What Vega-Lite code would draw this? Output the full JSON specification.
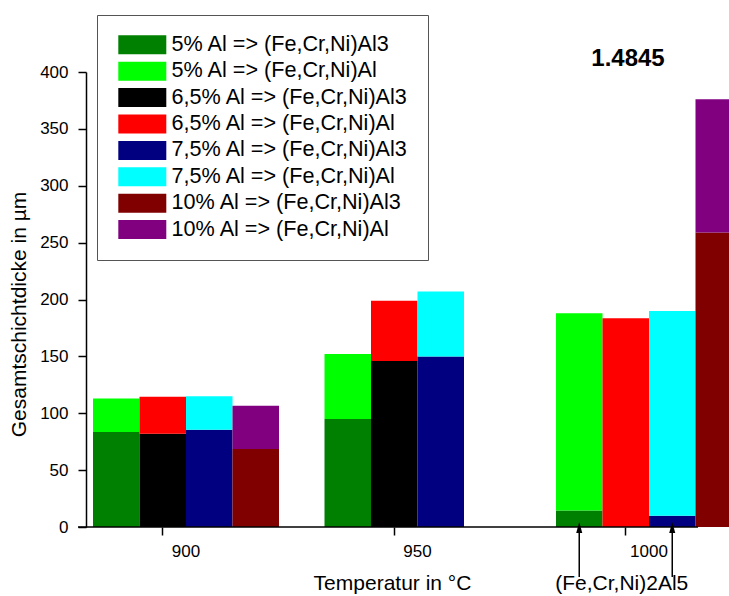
{
  "$schema": "https://vega.github.io/schema/vega-lite/v6.json",
  "width": 620,
  "height": 455,
  "autosize": {"type": "none"},
  "padding": {"left": 78, "top": 72, "right": 31, "bottom": 69},
  "background": "white",
  "title": {"text": "1.4845", "fontSize": 24, "fontWeight": "bold", "font": "Liberation Sans", "color": "black", "anchor": "middle", "frame": "group", "dx": 240, "dy": 81, "offset": 6, "baseline": "alphabetic"},
  "config": {
    "font": "Liberation Sans",
    "view": {"stroke": null},
    "axis": {"grid": false, "domainColor": "black", "tickColor": "black", "labelColor": "black", "titleColor": "black", "labelFont": "Liberation Sans", "titleFont": "Liberation Sans"}
  },
  "datasets": {
    "layers": [
      {"T": 900, "alloy": "5%", "phase": "Al3", "series": "5% Al => (Fe,Cr,Ni)Al3", "value": 83.5},
      {"T": 900, "alloy": "5%", "phase": "Al", "series": "5% Al => (Fe,Cr,Ni)Al", "value": 29.5},
      {"T": 900, "alloy": "6,5%", "phase": "Al3", "series": "6,5% Al => (Fe,Cr,Ni)Al3", "value": 82},
      {"T": 900, "alloy": "6,5%", "phase": "Al", "series": "6,5% Al => (Fe,Cr,Ni)Al", "value": 32.5},
      {"T": 900, "alloy": "7,5%", "phase": "Al3", "series": "7,5% Al => (Fe,Cr,Ni)Al3", "value": 85.5},
      {"T": 900, "alloy": "7,5%", "phase": "Al", "series": "7,5% Al => (Fe,Cr,Ni)Al", "value": 29.5},
      {"T": 900, "alloy": "10%", "phase": "Al3", "series": "10% Al => (Fe,Cr,Ni)Al3", "value": 68.5},
      {"T": 900, "alloy": "10%", "phase": "Al", "series": "10% Al => (Fe,Cr,Ni)Al", "value": 38},
      {"T": 950, "alloy": "5%", "phase": "Al3", "series": "5% Al => (Fe,Cr,Ni)Al3", "value": 95},
      {"T": 950, "alloy": "5%", "phase": "Al", "series": "5% Al => (Fe,Cr,Ni)Al", "value": 57},
      {"T": 950, "alloy": "6,5%", "phase": "Al3", "series": "6,5% Al => (Fe,Cr,Ni)Al3", "value": 146},
      {"T": 950, "alloy": "6,5%", "phase": "Al", "series": "6,5% Al => (Fe,Cr,Ni)Al", "value": 53},
      {"T": 950, "alloy": "7,5%", "phase": "Al3", "series": "7,5% Al => (Fe,Cr,Ni)Al3", "value": 150},
      {"T": 950, "alloy": "7,5%", "phase": "Al", "series": "7,5% Al => (Fe,Cr,Ni)Al", "value": 57},
      {"T": 1000, "alloy": "5%", "phase": "Al3", "series": "5% Al => (Fe,Cr,Ni)Al3", "value": 14.5},
      {"T": 1000, "alloy": "5%", "phase": "Al", "series": "5% Al => (Fe,Cr,Ni)Al", "value": 173.5},
      {"T": 1000, "alloy": "6,5%", "phase": "Al", "series": "6,5% Al => (Fe,Cr,Ni)Al", "value": 183.5},
      {"T": 1000, "alloy": "7,5%", "phase": "Al3", "series": "7,5% Al => (Fe,Cr,Ni)Al3", "value": 10},
      {"T": 1000, "alloy": "7,5%", "phase": "Al", "series": "7,5% Al => (Fe,Cr,Ni)Al", "value": 180},
      {"T": 1000, "alloy": "10%", "phase": "Al3", "series": "10% Al => (Fe,Cr,Ni)Al3", "value": 259},
      {"T": 1000, "alloy": "10%", "phase": "Al", "series": "10% Al => (Fe,Cr,Ni)Al", "value": 117}
    ],
    "arrows": [
      {"T": 1000, "alloy": "5%"},
      {"T": 1000, "alloy": "7,5%"}
    ],
    "note": [
      {"T": 1000, "alloy": "6,5%", "text": "(Fe,Cr,Ni)2Al5"}
    ]
  },
  "layer": [
    {
      "data": {"name": "layers"},
      "mark": {"type": "bar"},
      "encoding": {
        "x": {
          "field": "T", "type": "ordinal",
          "scale": {"type": "band", "domain": [900, 950, 1000], "range": [15, 664], "paddingInner": 0.1965, "paddingOuter": 0},
          "axis": {
            "title": "Temperatur in °C", "domain": false, "tickSize": 8, "tickWidth": 1.5,
            "labelFontSize": 17, "labelPadding": 8, "labelAngle": 0, "bandPosition": 0.375,
            "titleFontSize": 21, "titleFontWeight": "normal", "titleX": 314, "titleY": 62, "titleBaseline": "alphabetic"
          }
        },
        "xOffset": {
          "field": "alloy", "type": "nominal",
          "scale": {"domain": ["5%", "6,5%", "7,5%", "10%"], "paddingInner": 0, "paddingOuter": 0}
        },
        "y": {
          "field": "value", "type": "quantitative", "stack": "zero",
          "scale": {"domain": [0, 400], "nice": false, "zero": true},
          "axis": {
            "title": "Gesamtschichtdicke in µm",
            "values": [0, 25, 50, 75, 100, 125, 150, 175, 200, 225, 250, 275, 300, 325, 350, 375, 400],
            "labelExpr": "datum.value % 50 === 0 ? datum.label : ''",
            "labelOverlap": false,
            "tickSize": {"condition": {"test": "datum.value % 50 === 0", "value": 8}, "value": 5},
            "offset": -8, "domainWidth": 1.5, "tickWidth": 1.5,
            "labelFontSize": 17, "labelPadding": 10,
            "titleFontSize": 21, "titleFontWeight": "normal", "titleX": -67, "titleY": 242, "titleBaseline": "middle"
          }
        },
        "color": {
          "field": "series", "type": "nominal",
          "scale": {
            "domain": ["5% Al => (Fe,Cr,Ni)Al3", "5% Al => (Fe,Cr,Ni)Al", "6,5% Al => (Fe,Cr,Ni)Al3", "6,5% Al => (Fe,Cr,Ni)Al", "7,5% Al => (Fe,Cr,Ni)Al3", "7,5% Al => (Fe,Cr,Ni)Al", "10% Al => (Fe,Cr,Ni)Al3", "10% Al => (Fe,Cr,Ni)Al"],
            "range": ["#008000", "#00ff00", "#000000", "#ff0000", "#000080", "#00ffff", "#800000", "#800080"]
          },
          "legend": {
            "title": null, "orient": "none", "legendX": 19, "legendY": -57,
            "symbolType": "M-2.526,-1H2.526V1H-2.526Z", "symbolSize": 361, "symbolStrokeWidth": 0, "symbolOpacity": 1,
            "labelFont": "Liberation Sans", "labelFontSize": 21.6, "labelColor": "black", "labelOffset": 18.5, "labelLimit": 400,
            "padding": 19, "symbolOffset": 15.5, "rowPadding": 3.4,
            "strokeColor": "#555555", "fillColor": "white"
          }
        },
        "order": {"field": "phase", "type": "nominal", "sort": "descending"}
      }
    },
    {
      "data": {"values": [{}]},
      "mark": {"type": "rule", "color": "black", "strokeWidth": 1.5},
      "encoding": {"y": {"datum": 0}}
    },
    {
      "data": {"name": "arrows"},
      "mark": {"type": "rule", "color": "black", "strokeWidth": 1.5},
      "encoding": {
        "x": {"field": "T", "type": "ordinal"},
        "xOffset": {"field": "alloy", "type": "nominal"},
        "y": {"datum": -44},
        "y2": {"datum": -4}
      }
    },
    {
      "data": {"name": "arrows"},
      "mark": {"type": "point", "shape": "M0,-1L0.55,1L-0.55,1Z", "size": 121, "filled": true, "color": "black", "opacity": 1},
      "encoding": {
        "x": {"field": "T", "type": "ordinal"},
        "xOffset": {"field": "alloy", "type": "nominal"},
        "y": {"datum": -0.4}
      }
    },
    {
      "data": {"name": "note"},
      "mark": {"type": "text", "fontSize": 21, "baseline": "alphabetic", "align": "center", "dx": -4, "color": "black", "font": "Liberation Sans"},
      "encoding": {
        "x": {"field": "T", "type": "ordinal"},
        "xOffset": {"field": "alloy", "type": "nominal"},
        "y": {"datum": -55.4},
        "text": {"field": "text"}
      }
    }
  ]
}
